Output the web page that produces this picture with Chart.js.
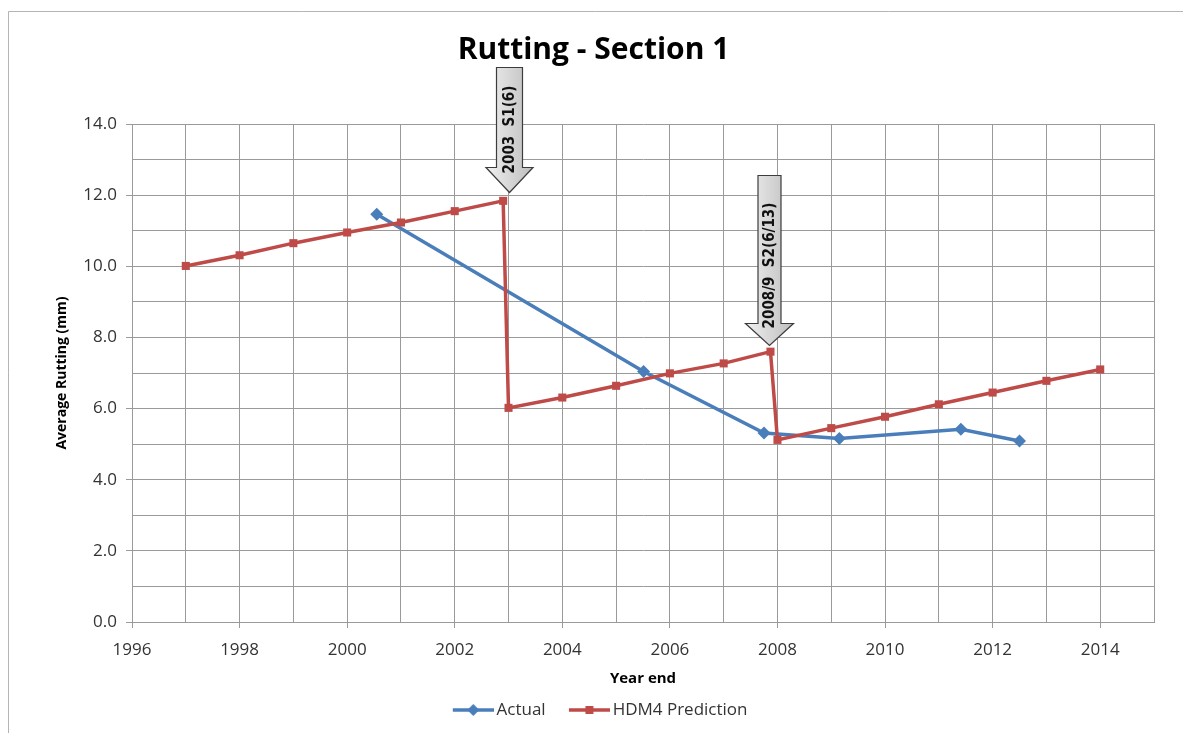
<!DOCTYPE html>
<html>
<head>
<meta charset="utf-8">
<title>Rutting - Section 1</title>
<script src="https://cdn.jsdelivr.net/npm/chart.js@4.4.1/dist/chart.umd.min.js"></script>
<style>
  html, body { margin: 0; padding: 0; background: #ffffff; }
  canvas { display: block; }
</style>
</head>
<body>
<canvas id="chart" width="1183" height="733"></canvas>
<script>
// Measured rutting, by survey date (decimal year)
const actualYears  = [2000.55, 2005.51, 2007.75, 2009.15, 2011.41, 2012.5];
const actualValues = [11.46, 7.04, 5.31, 5.16, 5.42, 5.09];

// HDM-4 predicted rutting, with resets after the two treatments
const predYears  = [1997, 1998, 1999, 2000, 2001, 2002, 2002.9, 2003, 2004, 2005, 2006, 2007, 2007.87, 2008, 2009, 2010, 2011, 2012, 2013, 2014];
const predValues = [10.01, 10.31, 10.65, 10.95, 11.23, 11.55, 11.84, 6.02, 6.31, 6.64, 6.99, 7.27, 7.60, 5.12, 5.45, 5.77, 6.12, 6.45, 6.78, 7.10];

// Axis ticks
const xTickYears  = [1996, 1998, 2000, 2002, 2004, 2006, 2008, 2010, 2012, 2014];
const yTickValues = [0, 2, 4, 6, 8, 10, 12, 14];

// Treatment call-outs: label, year and rutting level the arrow points at
const treatmentLabels = ['2003  S1(6)', '2008/9  S2(6/13)'];
const treatmentYears  = [2003, 2007.84];
const treatmentLevels = [12.09, 7.79];

const BLUE = '#4a7ebb';
const RED  = '#be4b48';
const GRID = '#9a9a9a';
const TEXT = '#333333';
const FONT = "'Open Sans', 'Liberation Sans', sans-serif";

function toPoints(xs, ys) {
  return xs.map((x, i) => ({ x: x, y: ys[i] }));
}

// Legend icons: a short line with the series marker in the middle
function legendIcon(color, marker) {
  const c = document.createElement('canvas');
  c.width = 60; c.height = 16;
  const g = c.getContext('2d');
  g.strokeStyle = color;
  g.lineWidth = 3.5;
  g.beginPath(); g.moveTo(19, 8); g.lineTo(60, 8); g.stroke();
  g.fillStyle = color;
  const cx = 39.5, cy = 8;
  g.beginPath();
  if (marker === 'diamond') {
    g.moveTo(cx, cy - 6); g.lineTo(cx + 6, cy); g.lineTo(cx, cy + 6); g.lineTo(cx - 6, cy);
  } else {
    g.rect(cx - 4, cy - 4, 8, 8);
  }
  g.closePath(); g.fill();
  return c;
}
const legendIcons = [legendIcon(BLUE, 'diamond'), legendIcon(RED, 'square')];

// Outer frame of the chart area
const framePlugin = {
  id: 'frame',
  beforeDraw(chart) {
    const ctx = chart.ctx;
    ctx.save();
    ctx.fillStyle = '#ffffff';
    ctx.fillRect(0, 0, chart.width, chart.height);
    ctx.strokeStyle = '#b4b4b4';
    ctx.lineWidth = 1;
    ctx.beginPath();
    ctx.moveTo(8.5, chart.height); ctx.lineTo(8.5, 11.5); ctx.lineTo(chart.width, 11.5);
    ctx.stroke();
    ctx.restore();
  }
};

// Downward block arrows marking the treatments
const treatmentArrows = {
  id: 'treatmentArrows',
  afterDatasetsDraw(chart) {
    const ctx = chart.ctx;
    const xs = chart.scales.x, ys = chart.scales.y;
    const shapes = [
      { len: 125, head: 25, bw: 26, hw: 47, textAt: 63 },
      { len: 170, head: 22, bw: 23, hw: 48, textAt: 80 }
    ];
    treatmentLabels.forEach((label, i) => {
      const s = shapes[i];
      const px = Math.round(xs.getPixelForValue(treatmentYears[i])) + 0.5;
      const tip = Math.round(ys.getPixelForValue(treatmentLevels[i])) + 0.5;
      const top = tip - s.len, neck = tip - s.head;
      ctx.save();
      ctx.beginPath();
      ctx.moveTo(px - s.bw / 2, top);
      ctx.lineTo(px + s.bw / 2, top);
      ctx.lineTo(px + s.bw / 2, neck);
      ctx.lineTo(px + s.hw / 2, neck);
      ctx.lineTo(px, tip);
      ctx.lineTo(px - s.hw / 2, neck);
      ctx.lineTo(px - s.bw / 2, neck);
      ctx.closePath();
      const grad = ctx.createLinearGradient(px - s.hw / 2, 0, px + s.hw / 2, 0);
      grad.addColorStop(0, '#f0f0f0');
      grad.addColorStop(1, '#bdbdbd');
      ctx.fillStyle = grad;
      ctx.fill();
      ctx.strokeStyle = '#3c3c3c';
      ctx.lineWidth = 1.2;
      ctx.stroke();
      ctx.translate(px, tip - s.textAt);
      ctx.rotate(-Math.PI / 2);
      ctx.fillStyle = '#111111';
      ctx.font = "bold 15px 'Liberation Sans Narrow', 'DejaVu Sans Condensed', sans-serif";
      ctx.textAlign = 'center';
      ctx.textBaseline = 'middle';
      ctx.fillText(label, 0, 1);
      ctx.restore();
    });
  }
};

const tickMarkColor = (ctx) => (ctx.tick && ctx.tick.label !== '' ? GRID : 'rgba(0,0,0,0)');

new Chart(document.getElementById('chart'), {
  type: 'line',
  data: {
    datasets: [
      {
        label: 'Actual',
        data: toPoints(actualYears, actualValues),
        borderColor: BLUE,
        backgroundColor: BLUE,
        borderWidth: 3.5,
        pointStyle: 'rectRot',
        pointRadius: 6.5,
        pointBorderWidth: 0,
        tension: 0,
        order: 2
      },
      {
        label: 'HDM4 Prediction',
        data: toPoints(predYears, predValues),
        borderColor: RED,
        backgroundColor: RED,
        borderWidth: 3.5,
        pointStyle: 'rect',
        pointRadius: 5.7,
        pointBorderWidth: 0,
        tension: 0,
        order: 1
      }
    ]
  },
  options: {
    responsive: false,
    animation: false,
    devicePixelRatio: 1,
    layout: { padding: { left: 33, right: 29, top: 0, bottom: 4.5 } },
    plugins: {
      tooltip: { enabled: false },
      title: {
        display: true,
        text: 'Rutting - Section 1',
        color: '#000000',
        font: { family: FONT, size: 30, weight: 'bold', lineHeight: 1.2 },
        padding: { top: 32, bottom: 56 }
      },
      legend: {
        position: 'bottom',
        labels: {
          color: TEXT,
          font: { family: FONT, size: 17 },
          usePointStyle: true,
          pointStyleWidth: 48.5,
          padding: 10,
          sort: (a, b) => a.datasetIndex - b.datasetIndex,
          generateLabels(chart) {
            const items = Chart.defaults.plugins.legend.labels.generateLabels(chart);
            items.forEach(it => { it.pointStyle = legendIcons[it.datasetIndex]; });
            return items;
          }
        }
      }
    },
    scales: {
      x: {
        type: 'linear',
        min: 1996,
        max: 2015,
        afterFit(scale) { scale.height = 69.5; },
        ticks: {
          stepSize: 1,
          autoSkip: false,
          maxRotation: 0,
          color: TEXT,
          padding: 11.5,
          font: { family: FONT, size: 17 },
          callback: (v) => (xTickYears.includes(v) ? String(v) : '')
        },
        grid: { color: GRID, lineWidth: 1, tickLength: 6, tickColor: tickMarkColor },
        border: { color: GRID, width: 1 },
        title: {
          display: true,
          text: 'Year end',
          color: '#000000',
          font: { family: FONT, size: 15, weight: 'bold', lineHeight: 1.2 },
          padding: { top: 0, bottom: 3.5 }
        }
      },
      y: {
        min: 0,
        max: 14,
        afterFit(scale) { scale.width = 99; },
        ticks: {
          stepSize: 1,
          autoSkip: false,
          color: TEXT,
          padding: 9,
          font: { family: FONT, size: 17 },
          callback: (v) => (yTickValues.includes(v) ? v.toFixed(1) : '')
        },
        grid: { color: GRID, lineWidth: 1, tickLength: 6, tickColor: tickMarkColor },
        border: { color: GRID, width: 1 },
        title: {
          display: true,
          text: 'Average Rutting (mm)',
          color: '#000000',
          font: { family: FONT, size: 14, weight: 'bold', lineHeight: 1.2 },
          padding: { top: 20.6, bottom: 0 }
        }
      }
    }
  },
  plugins: [framePlugin, treatmentArrows]
});
</script>
</body>
</html>
